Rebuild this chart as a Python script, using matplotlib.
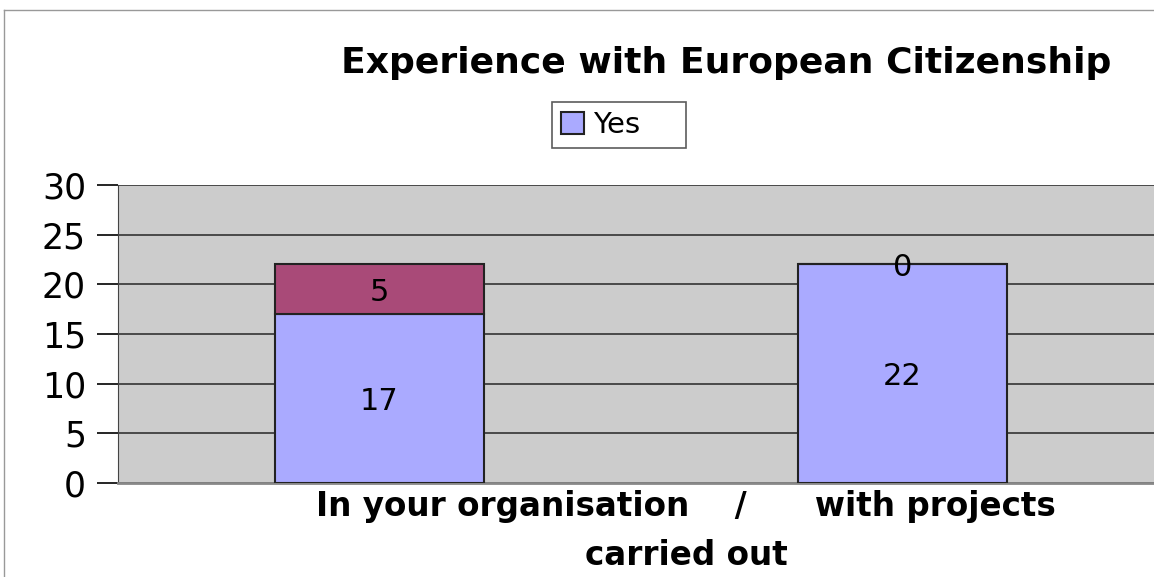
import matplotlib.pyplot as plt
import numpy as np

categories = ["In your organisation", "with projects carried out"]
yes_values = [17, 22]
other_values = [5, 0]
yticks = [0, 5, 10, 15, 20, 25, 30]

W, H = 1154, 577
fig = plt.figure(figsize=(W / 100, H / 100), dpi=100)
ax = fig.add_axes([118 / W, 1 - 483 / H, (1164 - 118) / W, (483 - 185) / H])
ax.set_facecolor("#cccccc")

x = np.arange(len(categories))
b1 = ax.bar(x, yes_values, width=0.4, color="#aaaaff", edgecolor="#222222",
            linewidth=1.5, label="Yes", zorder=3)
b2 = ax.bar(x, other_values, bottom=yes_values, width=0.4, color="#a94a78",
            edgecolor="#222222", linewidth=1.5, zorder=3)

for rect, v in zip(b1, yes_values):
    ax.text(rect.get_x() + rect.get_width() / 2, v / 2 - 0.3, str(v),
            ha="center", va="center", fontsize=22, zorder=4)
for rect, base, v in zip(b2, yes_values, other_values):
    ax.text(rect.get_x() + rect.get_width() / 2, base + v / 2 - 0.3, str(v),
            ha="center", va="center", fontsize=22, zorder=4)

ax.set_xlim(-0.5, 1.5)
ax.set_ylim(0, 30)
ax.set_yticks(yticks)
ax.set_yticklabels([str(t) for t in yticks], fontsize=25)
ax.set_xticks([])
ax.yaxis.grid(True, color="#333333", linewidth=1.2, zorder=1)
ax.tick_params(axis="y", length=15, width=1.2, direction="out", pad=8)
for s in ["top", "right"]:
    ax.spines[s].set_visible(False)
ax.spines["left"].set_color("#444444")
ax.spines["bottom"].set_color("#888888")
ax.spines["bottom"].set_linewidth(2)

fig.text(726 / W, 1 - 63 / H, "Experience with European Citizenship",
         ha="center", va="center", fontsize=26, fontweight="bold")
fig.text(686 / W, 1 - 531 / H, "In your organisation    /      with projects\ncarried out",
         ha="center", va="center", fontsize=23.5, fontweight="bold", linespacing=1.6)

leg = fig.legend(handles=[b1], labels=["Yes"], loc="center",
                 bbox_to_anchor=(619 / W, 1 - 125 / H), fontsize=21,
                 frameon=True, fancybox=False, edgecolor="#333333",
                 handlelength=0.8, handleheight=0.8, handletextpad=0.3,
                 borderpad=0.3, borderaxespad=0)
leg.get_frame().set_linewidth(1.2)
leg.get_texts()[0].set_text("Yes    ")

# thin outer border of the chart frame
fig.add_artist(plt.Line2D([4 / W, 4 / W], [0, 1 - 10 / H], color="#999999", lw=1))
fig.add_artist(plt.Line2D([4 / W, 1], [1 - 10 / H, 1 - 10 / H], color="#999999", lw=1))

fig.savefig("out.png", dpi=100)
